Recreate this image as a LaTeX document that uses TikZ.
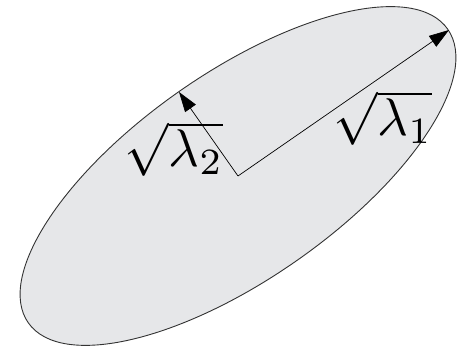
\documentclass[tikz,border=0pt]{standalone}
\usetikzlibrary{arrows.meta}
\definecolor{ellfill}{RGB}{230,231,233}
\tikzset{
  axisarrow/.style={draw=black, line width=0.7pt, -{Triangle[length=20pt,width=13pt]}},
  axislabel/.style={inner sep=0pt, scale=5.3}
}
\begin{document}
\begin{tikzpicture}[x=1pt,y=1pt]
\useasboundingbox (0,0) rectangle (464,350);
\coordinate (c) at (238,174);
\draw[fill=ellfill, draw=black!80, line width=0.9pt, rotate around={35:(c)}] (c) ellipse [x radius=256, y radius=103];
\coordinate (t1) at (449,320);
\coordinate (t2) at (179,258);
\draw[axisarrow] (c) -- (t1);
\draw[axisarrow] (c) -- (t2);
\node[axislabel] (l2) at (174,201) {$\sqrt{\lambda_2}$};
\node[axislabel] (l1) at (383,232) {$\sqrt{\lambda_1}$};
\end{tikzpicture}
\end{document}
